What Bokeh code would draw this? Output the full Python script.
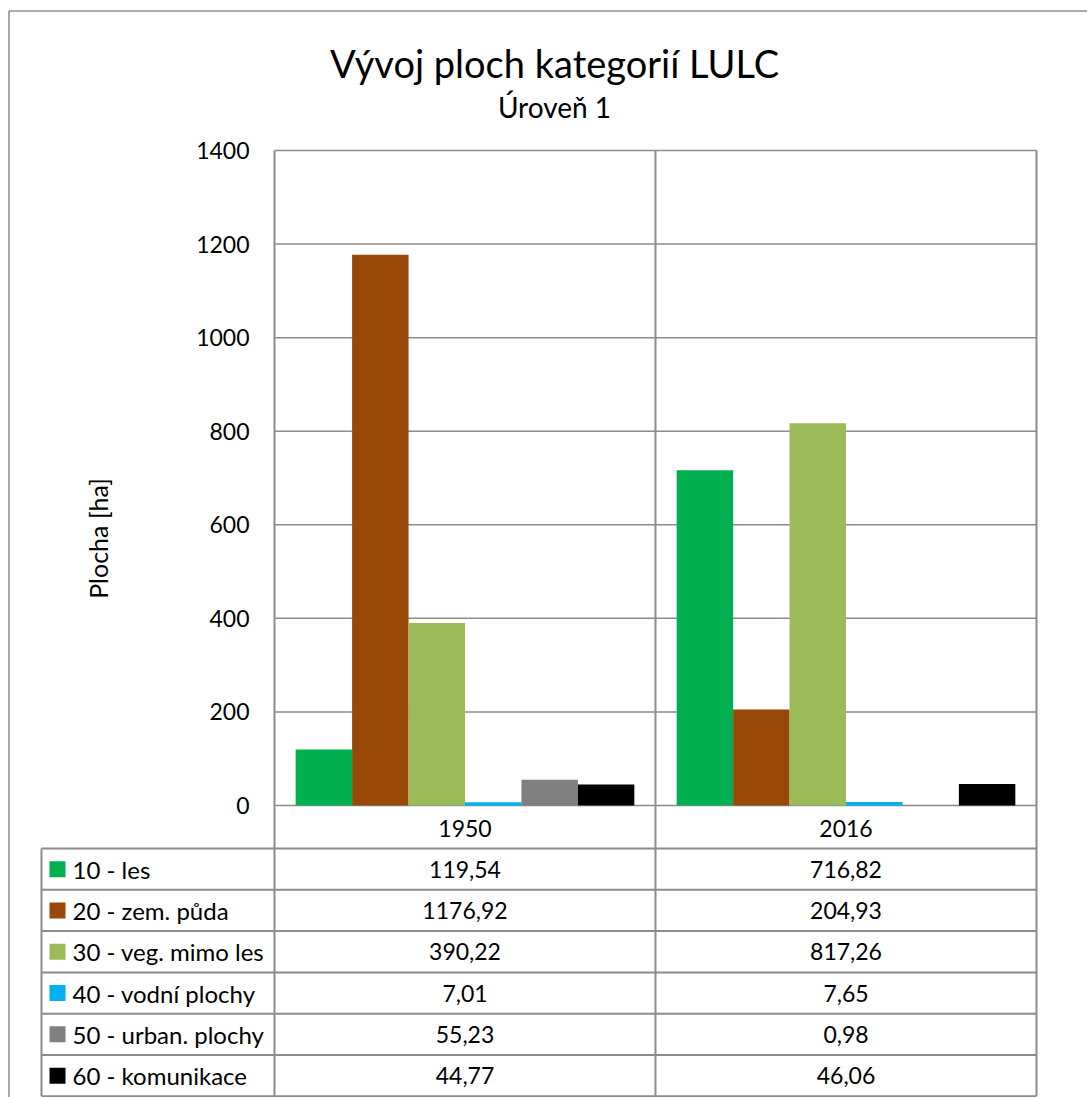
import math
from bokeh.plotting import figure
from bokeh.models import Range1d
from bokeh.core.properties import value
from bokeh.embed import file_html
from bokeh.resources import INLINE

# ---------------- data ----------------
title = "Vývoj ploch kategorií LULC"
subtitle = "Úroveň 1"
y_label = "Plocha [ha]"
years = ["1950", "2016"]
categories = ["10 - les", "20 - zem. půda", "30 - veg. mimo les",
              "40 - vodní plochy", "50 - urban. plochy", "60 - komunikace"]
values_1950 = [119.54, 1176.92, 390.22, 7.01, 55.23, 44.77]
values_2016 = [716.82, 204.93, 817.26, 7.65, 0.98, 46.06]
labels_1950 = ["119,54", "1176,92", "390,22", "7,01", "55,23", "44,77"]
labels_2016 = ["716,82", "204,93", "817,26", "7,65", "0,98", "46,06"]
colors = ["#00B050", "#984807", "#9BBB59", "#00B0F0", "#808080", "#000000"]
y_ticks = [0, 200, 400, 600, 800, 1000, 1200, 1400]

# ---------------- layout (screen pixel geometry) ----------------
ORG = 0
W, H = 1087, 1097
X0, CAT = 274, 381           # screen x of category 0 start, px per category
Y0, PXV = 805, 655 / 1400    # screen y of value 0, px per ha


def ux(px):
    return (px - X0) / CAT


def vy(py):
    return (Y0 - py) / PXV


FONT = value("Lato")
GRID = "#8C8C8C"
TXT = "#000000"

p = figure(width=W, height=H, x_range=Range1d(ux(ORG), ux(ORG + W)),
           y_range=Range1d(vy(ORG + H), vy(ORG)), min_border=0,
           x_axis_location=None, y_axis_location=None,
           toolbar_location=None, output_backend="svg")
p.grid.visible = False
p.outline_line_color = None
p.background_fill_color = "white"
p.border_fill_color = "white"

# outer chart border
p.segment(x0=[ux(8.5), ux(8.5)], y0=[vy(10.5), vy(10.5)],
          x1=[ux(8.5), ux(1200)], y1=[vy(1200), vy(10.5)],
          line_color="#8C8C8C", line_width=1.5)

# gridlines
p.segment(x0=[0] * len(y_ticks), x1=[2] * len(y_ticks), y0=y_ticks, y1=y_ticks,
          line_color=GRID, line_width=1.5)

# bars
n = len(categories)
bw = 1 / (n + 0.75)
for ci, vals in enumerate([values_1950, values_2016]):
    xs = [ci + 0.375 * bw + bw * (k + 0.5) for k in range(n)]
    p.vbar(x=xs, width=bw, top=vals, bottom=0, fill_color=colors, line_color=None)

# table geometry
HDR_BOT = 848
ROW_H = 41.3
row_edges = [HDR_BOT + ROW_H * i for i in range(n + 1)]
table_bottom = row_edges[-1]
TL = 41

# vertical lines of plot + table
p.segment(x0=[0, 1, 2], x1=[0, 1, 2], y0=[1400] * 3, y1=[vy(table_bottom)] * 3,
          line_color=GRID, line_width=2)
p.segment(x0=[ux(TL)], x1=[ux(TL)], y0=[vy(HDR_BOT)], y1=[vy(table_bottom)],
          line_color=GRID, line_width=2)
# horizontal table lines
p.segment(x0=[ux(TL)] * len(row_edges), x1=[2] * len(row_edges),
          y0=[vy(e) for e in row_edges], y1=[vy(e) for e in row_edges],
          line_color=GRID, line_width=2)

# header years
p.text(x=[0.5, 1.5], y=[vy((Y0 + HDR_BOT) / 2 + 1)] * 2, text=years,
       text_align="center", text_baseline="middle", text_font=FONT,
       text_font_size="23px", text_color=TXT)

# table rows
centers = [vy(HDR_BOT + ROW_H * (i + 0.5)) for i in range(n)]
p.text(x=[0.5] * n, y=centers, text=labels_1950, text_align="center",
       text_baseline="middle", text_font=FONT, text_font_size="23px", text_color=TXT)
p.text(x=[1.5] * n, y=centers, text=labels_2016, text_align="center",
       text_baseline="middle", text_font=FONT, text_font_size="23px", text_color=TXT)
# legend keys
p.rect(x=[ux(57)] * n, y=centers, width=16 / CAT, height=16 / PXV,
       fill_color=colors, line_color=None)
p.text(x=[ux(72)] * n, y=centers, text=categories, text_align="left",
       text_baseline="middle", text_font=FONT, text_font_size="24px", text_color=TXT)

# y tick labels
p.text(x=[ux(249)] * len(y_ticks), y=y_ticks, text=[str(t) for t in y_ticks],
       text_align="right", text_baseline="middle", text_font=FONT,
       text_font_size="23px", text_color=TXT)

# axis title
p.text(x=[ux(97)], y=[vy(538)], text=[y_label], angle=math.pi / 2,
       text_align="center", text_baseline="middle", text_font=FONT,
       text_font_size="25px", text_color=TXT)

# titles
p.text(x=[ux(554)], y=[vy(62)], text=[title], text_align="center",
       text_baseline="middle", text_font=FONT, text_font_size="38px", text_color=TXT)
p.text(x=[ux(554)], y=[vy(106)], text=[subtitle], text_align="center",
       text_baseline="middle", text_font=FONT, text_font_size="28px", text_color=TXT)

open("out.html", "w").write(file_html(p, INLINE))
